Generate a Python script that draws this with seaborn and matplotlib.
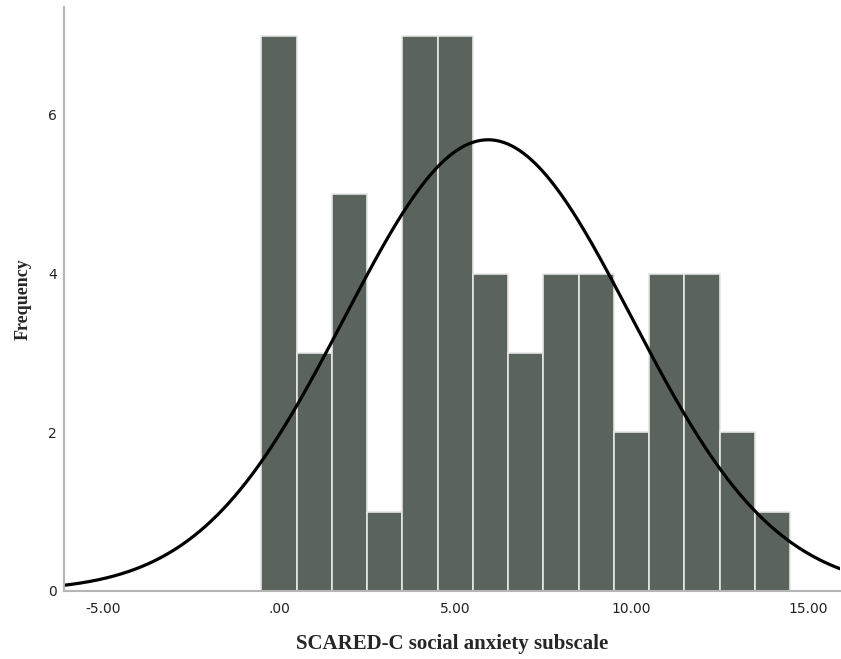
import matplotlib
matplotlib.use("Agg")
import matplotlib.pyplot as plt
import numpy as np
import pandas as pd
import seaborn as sns

# histogram bins (integer scores) and their frequencies
scores = [0, 1, 2, 3, 4, 5, 6, 7, 8, 9, 10, 11, 12, 13, 14]
counts = [7, 3, 5, 1, 7, 7, 4, 3, 4, 4, 2, 4, 4, 2, 1]

x_ticks = [-5, 0, 5, 10, 15]
x_tick_labels = ["-5.00", ".00", "5.00", "10.00", "15.00"]
y_ticks = [0, 2, 4, 6]

sns.set_theme(style="white")
plt.rcParams["font.family"] = ["DejaVu Sans"]

hist_df = pd.DataFrame({"score": scores, "count": counts})

fig = plt.figure(figsize=(8.41, 6.59), dpi=100)
ax = fig.add_axes([0.0761, 0.1032, 0.923, 0.8862])

sns.histplot(
    data=hist_df, x="score", weights="count", bins=list(np.arange(-0.5, 15.5, 1.0)),
    color="#5a645c", edgecolor="#e6e6e6", linewidth=1.2, alpha=1.0, ax=ax,
)

# normal curve fitted to the same data
vals = np.repeat(scores, counts)
mu, sd = vals.mean(), vals.std(ddof=1)
xs = np.linspace(-6.2, 16.0, 400)
ys = len(vals) * 1.0 / (sd * np.sqrt(2 * np.pi)) * np.exp(-0.5 * ((xs - mu) / sd) ** 2)
sns.lineplot(x=xs, y=ys, color="black", linewidth=2.3, ax=ax)

ax.set_xlim(-6.1, 15.92)
ax.set_ylim(0, 7.36)
ax.set_xticks(x_ticks)
ax.set_xticklabels(x_tick_labels)
ax.set_yticks(y_ticks)
ax.tick_params(axis="x", length=0, labelsize=10, colors="#222222", pad=8)
ax.tick_params(axis="y", length=0, labelsize=10, colors="#222222", pad=5)

for side in ["top", "right"]:
    ax.spines[side].set_visible(False)
for side in ["left", "bottom"]:
    ax.spines[side].set_color("#b4b4b4")
    ax.spines[side].set_linewidth(1.5)

ax.set_xlabel("SCARED-C social anxiety subscale", family="Liberation Serif",
              fontweight="bold", fontsize=15, labelpad=13)
ax.set_ylabel("Frequency", family="Liberation Serif", fontweight="bold",
              fontsize=13, labelpad=12)

fig.savefig("out.png", dpi=100)
